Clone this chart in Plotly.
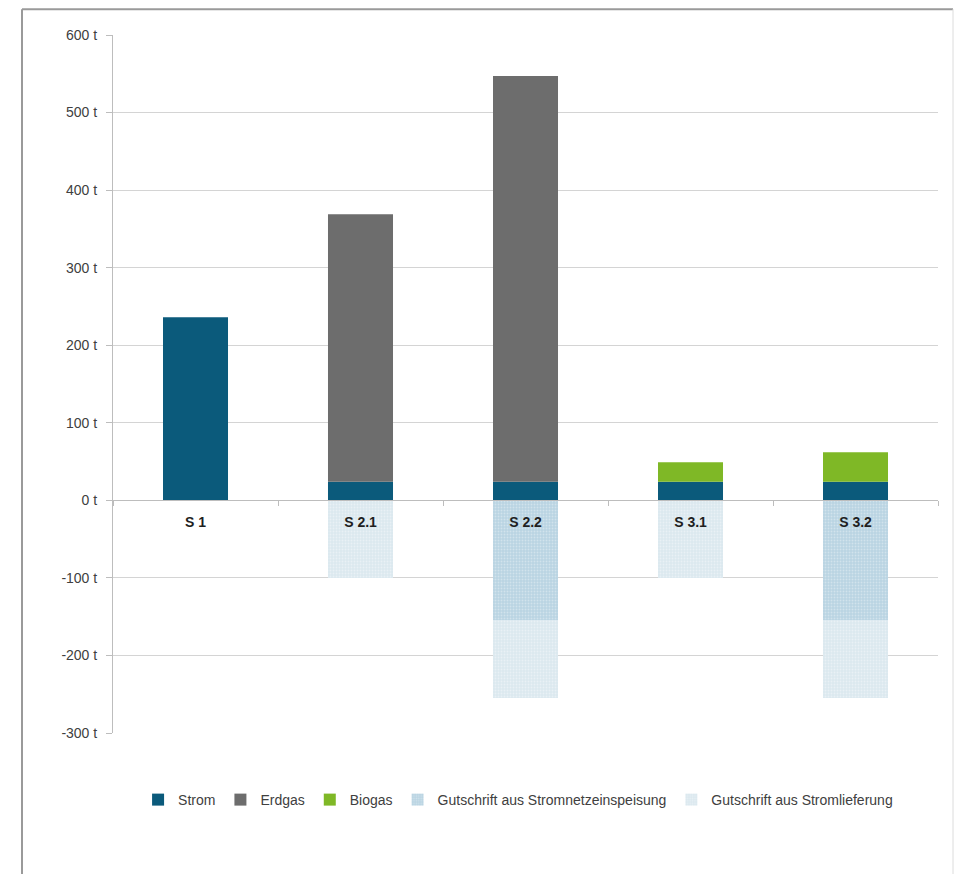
import plotly.graph_objects as go

# Szenarien und CO2-Bilanz je Energieträger (t)
szenarien = ["S 1", "S 2.1", "S 2.2", "S 3.1", "S 3.2"]
strom = [236, 24, 24, 24, 24]
erdgas = [0, 345, 523, 0, 0]
biogas = [0, 0, 0, 25, 38]
gutschrift_netz = [0, 0, -155, 0, -155]
gutschrift_lieferung = [0, -100, -100, -100, -100]

y_ticks = [-300, -200, -100, 0, 100, 200, 300, 400, 500, 600]
y_labels = [f"{v} t" for v in y_ticks]

FONT = "Liberation Sans, Arial, sans-serif"
TXT = "#404040"

series = [
    ("Strom", strom, dict(color="#0b5a7b")),
    ("Erdgas", erdgas, dict(color="#6d6d6d")),
    ("Biogas", biogas, dict(color="#7fb826")),
    ("Gutschrift aus Stromnetzeinspeisung", gutschrift_netz,
     dict(color="#b9d4e2",
          pattern=dict(shape=".", fgcolor="#ffffff", fgopacity=0.35, size=3, solidity=0.3))),
    ("Gutschrift aus Stromlieferung", gutschrift_lieferung,
     dict(color="#dbe8ef",
          pattern=dict(shape=".", fgcolor="#ffffff", fgopacity=0.4, size=3, solidity=0.3))),
]

fig = go.Figure()
for name, vals, marker in series:
    fig.add_trace(go.Bar(
        name=name, x=szenarien, y=vals,
        marker=dict(line=dict(width=0), **marker),
    ))

fig.update_layout(
    width=962, height=874,
    margin=dict(l=113, r=24, t=35, b=141),
    paper_bgcolor="white", plot_bgcolor="white",
    barmode="relative", bargap=0.606,
    font=dict(family=FONT, size=14, color=TXT),
    showlegend=True,
    legend=dict(
        orientation="h", x=0.491, xanchor="center", y=-0.096, yanchor="middle",
        font=dict(family=FONT, size=14, color=TXT),
        itemwidth=30, traceorder="normal",
    ),
    xaxis=dict(
        anchor="free", position=1 / 3,
        showline=True, linecolor="#bdbdbd", linewidth=1,
        ticks="outside", tickson="boundaries", ticklen=5, tickcolor="#bdbdbd",
        ticklabelstandoff=9,
        tickfont=dict(family=FONT, size=14, color="#1f1f1f", weight=700),
        showgrid=False, zeroline=False, fixedrange=True,
    ),
    yaxis=dict(
        range=[-300, 600], domain=[0, 1],
        tickvals=y_ticks, ticktext=y_labels,
        showgrid=True, gridcolor="#d4d4d4", gridwidth=1,
        zeroline=False,
        showline=True, linecolor="#bdbdbd", linewidth=1,
        ticks="outside", ticklen=6, tickcolor="#bdbdbd",
        ticklabelstandoff=6,
        tickfont=dict(family=FONT, size=14, color=TXT),
    ),
)

# Rahmen um das Diagramm
fig.add_shape(type="line", xref="paper", yref="paper",
              x0=-0.1103, x1=-0.1103, y0=1.037, y1=-0.25,
              line=dict(color="#9a9a9a", width=2))
fig.add_shape(type="line", xref="paper", yref="paper",
              x0=-0.1103, x1=1.0182, y0=1.037, y1=1.037,
              line=dict(color="#9a9a9a", width=2))
fig.add_shape(type="line", xref="paper", yref="paper",
              x0=1.0182, x1=1.0182, y0=1.037, y1=-0.25,
              line=dict(color="#dcdcdc", width=1))

fig.write_html("out.html")
